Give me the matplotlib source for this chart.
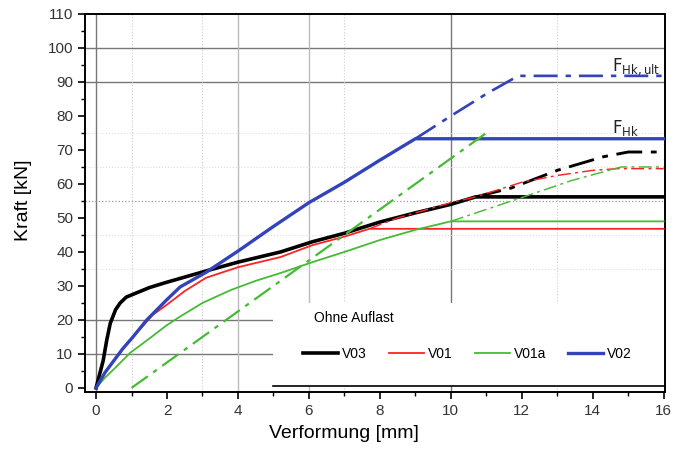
import numpy as np
import matplotlib
matplotlib.use("Agg")
import matplotlib.pyplot as plt
from matplotlib.patches import Rectangle

plt.rcParams['font.family'] = ['Liberation Sans', 'DejaVu Sans']

# V03 (black)
v03_x = [0, 0.1, 0.2, 0.3, 0.4, 0.55, 0.68, 0.85, 1.15, 1.5, 1.9, 2.5, 3.1, 4.0, 5.2, 6.1, 7.0, 8.0, 9.0, 10.0, 10.7, 16]
v03_y = [0, 4, 8, 14, 19, 23, 25, 26.7, 28, 29.5, 30.8, 32.6, 34.4, 37, 40, 43, 45.5, 48.8, 51.5, 54, 56.2, 56.2]
v03_ext_x = [10.7, 11.7, 13.0, 14.3, 15.0, 16]
v03_ext_y = [56.2, 58.8, 64, 68, 69.4, 69.4]

# V01 (red)
v01_x = [0, 0.25, 0.5, 0.75, 1.0, 1.3, 1.6, 2.0, 2.5, 3.1, 4.0, 5.2, 6.1, 7.0, 7.7, 16]
v01_y = [0, 4.5, 8, 11.5, 14.5, 18, 21.5, 24.5, 28.5, 32.4, 35.5, 38.5, 42, 44.5, 46.8, 46.8]
v01_ext_x = [7.7, 8.5, 10.0, 10.7, 12.0, 13.0, 14.0, 14.7, 16]
v01_ext_y = [46.8, 50, 54.5, 56.2, 60.5, 62.5, 64, 64.5, 64.5]

# V01a (green)
v01a_x = [0, 0.25, 0.5, 0.96, 1.5, 2.0, 2.37, 3.0, 3.8, 4.5, 5.2, 6.1, 7.0, 8.0, 9.0, 10.0, 16]
v01a_y = [0, 3, 5.5, 10.3, 14.5, 18.5, 21, 25, 28.8, 31.5, 33.8, 37, 40, 43.5, 46.5, 49, 49]
v01a_ext_x = [10.0, 11.0, 12.0, 13.4, 14.8, 16]
v01a_ext_y = [49, 52.5, 56, 61, 65, 65]
v01a_off_x = [1.0, 11.0]
v01a_off_y = [0, 75]

# V02 (blue)
v02_x = [0, 0.25, 0.5, 0.75, 1.0, 1.43, 2.0, 2.37, 3.1, 4.05, 5.0, 6.0, 7.0, 8.0, 9.0, 16]
v02_y = [0, 4.5, 8, 11.5, 14.5, 20, 26, 29.7, 34, 40.6, 47.5, 54.5, 60.5, 67, 73.3, 73.3]
v02_ext_x = [9.0, 10.0, 11.0, 11.9, 16]
v02_ext_y = [73.3, 80, 86.5, 91.8, 91.8]

labels = ['V03', 'V01', 'V01a', 'V02']
colors = ['black', '#ff2222', '#44bb33', '#3344bb']
widths = [2.6, 1.3, 1.3, 2.4]

hgrid_dark = [10, 20, 90, 100]
vgrid_dark = [0, 10]
vgrid_light = [4, 6]
hgrid_dot = [55]
hgrid_faint = [35, 45, 65, 75]
vgrid_faint = [1, 3, 7, 13]

dashdot = (0, (9, 3, 2, 3))

fig = plt.figure(figsize=(6.86, 4.59), dpi=100)
ax = fig.add_axes([0.124, 0.146, 0.845, 0.8235])

for y in hgrid_dark:
    ax.axhline(y, color='#777777', lw=1.0, zorder=1)
for x in vgrid_dark:
    ax.axvline(x, color='#777777', lw=1.0, zorder=1)
for x in vgrid_light:
    ax.axvline(x, color='#bbbbbb', lw=1.0, zorder=1)
for y in hgrid_dot:
    ax.axhline(y, color='#999999', lw=0.9, ls=':', zorder=1)
for y in hgrid_faint:
    ax.axhline(y, color='#dddddd', lw=0.8, ls=':', zorder=1)
for x in vgrid_faint:
    ax.axvline(x, color='#cccccc', lw=0.8, ls=':', zorder=1)

# white legend area covering the grid
ax.add_patch(Rectangle((5, 0.6), 11.2, 24.4, facecolor='white', edgecolor='none', zorder=2))
ax.plot([5, 16], [0.6, 0.6], color='black', lw=1.2, zorder=3)

solid = [(v03_x, v03_y), (v01_x, v01_y), (v01a_x, v01a_y), (v02_x, v02_y)]
ext = [(v03_ext_x, v03_ext_y), (v01_ext_x, v01_ext_y), (v01a_ext_x, v01a_ext_y), (v02_ext_x, v02_ext_y)]
for i in range(4):
    ax.plot(solid[i][0], solid[i][1], color=colors[i], lw=widths[i], label=labels[i], zorder=4)
    ax.plot(ext[i][0], ext[i][1], color=colors[i], lw=widths[i] * 0.8, ls=dashdot, zorder=4)
ax.plot(v01a_off_x, v01a_off_y, color=colors[2], lw=1.6, ls=dashdot, zorder=4)

ax.text(14.55, 93.3, r'$\mathrm{F}_{\mathrm{Hk,ult}}$', fontsize=12, color='#222222', zorder=5)
ax.text(14.55, 75.0, r'$\mathrm{F}_{\mathrm{Hk}}$', fontsize=12, color='#222222', zorder=5)

ax.text(0.395, 0.185, 'Ohne Auflast', transform=ax.transAxes, fontsize=10, zorder=5)
ax.legend(loc='center', bbox_to_anchor=(0.66, 0.10), ncol=4, frameon=False,
          fontsize=10, handlelength=2.5, handletextpad=0.3, columnspacing=1.6)

ax.set_xlim(-0.31, 16.03)
ax.set_ylim(-1.2, 110)
ax.set_xticks(np.arange(0, 17, 2))
ax.set_xticks(np.arange(0, 17, 1), minor=True)
ax.set_yticks(np.arange(0, 111, 10))
ax.set_yticks(np.arange(0, 111, 5), minor=True)
ax.tick_params(axis='both', which='major', direction='out', length=5, width=1.2,
               labelsize=11, labelcolor='#333333')
ax.tick_params(axis='both', which='minor', direction='out', length=3, width=1.0)
for s in ax.spines.values():
    s.set_linewidth(1.4)

ax.set_xlabel('Verformung [mm]', fontsize=14)
ax.set_ylabel('Kraft [kN]', fontsize=14)
ax.xaxis.set_label_coords(0.447, -0.088)
ax.yaxis.set_label_coords(-0.092, 0.508)

fig.savefig('out.png', dpi=100)
